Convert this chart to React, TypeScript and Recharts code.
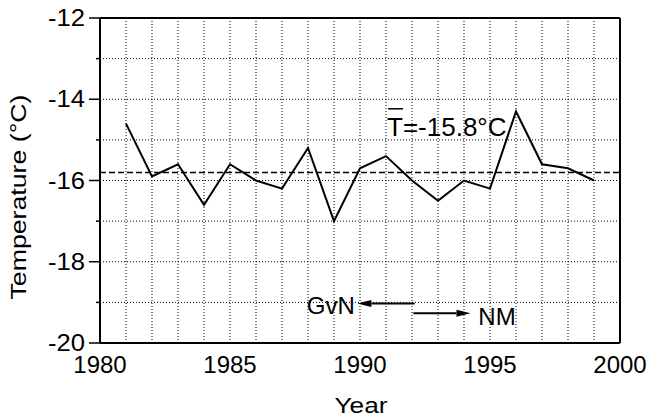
import React from "react";
import { LineChart, Line, XAxis, YAxis, ReferenceLine, ReferenceDot } from "recharts";

// annual mean temperature series
const years = [1981, 1982, 1983, 1984, 1985, 1986, 1987, 1988, 1989, 1990, 1991, 1992, 1993, 1994, 1995, 1996, 1997, 1998, 1999];
const temps = [-14.6, -15.9, -15.6, -16.6, -15.6, -16.0, -16.2, -15.2, -17.0, -15.7, -15.4, -16.0, -16.5, -16.0, -16.2, -14.3, -15.6, -15.7, -16.0];
const meanTemp = -15.8;

const xTicks = [1980, 1985, 1990, 1995, 2000];
const yTicks = [-20, -19, -18, -17, -16, -15, -14, -13, -12];
const gridYears = [1981, 1982, 1983, 1984, 1985, 1986, 1987, 1988, 1989, 1990, 1991, 1992, 1993, 1994, 1995, 1996, 1997, 1998, 1999];
const gridTemps = [-19, -18, -17, -16, -15, -14, -13];

// annotation anchors (data coordinates)
const gvnArrow = [{ x: 1992.1, y: -19.03 }, { x: 1989.9, y: -19.03 }];
const nmArrow = [{ x: 1992.05, y: -19.27 }, { x: 1994.25, y: -19.27 }];
const gvnLabel = { x: 1989.8, y: -19.29, text: "GvN" };
const nmLabel = { x: 1994.55, y: -19.55, text: "NM" };
const meanLabel = { x: 1991.04, y: -14.9, text: "T=-15.8°C" };

const data = years.map((year, i) => ({ year, temp: temps[i] }));

const FONT = "'Liberation Sans', Arial, sans-serif";

const YTick = (props: any) => {
    const { x, y, payload } = props;
    const major = payload.value % 2 === 0;
    return (
        <g>
            <line x1={x - (major ? 11 : 4)} x2={x} y1={y} y2={y} stroke="#000" strokeWidth={1.5} />
            {major && (
                <text
                    x={x - 15}
                    y={y + 8}
                    textAnchor="end"
                    fontSize={23}
                    fontFamily={FONT}
                    fill="#000"
                    textLength={37}
                    lengthAdjust="spacingAndGlyphs"
                >
                    {payload.value}
                </text>
            )}
        </g>
    );
};

const XTick = (props: any) => {
    const { x, y, payload } = props;
    return (
        <text x={x} y={y + 30} textAnchor="middle" fontSize={24} fontFamily={FONT} fill="#000">
            {payload.value}
        </text>
    );
};

const Arrow = (p: any) => {
    const { x1, y1, x2, y2 } = p;
    const dir = Math.sign(x2 - x1);
    const head = 14;
    return (
        <g>
            <line x1={x1} y1={y1} x2={x2 - dir * head} y2={y2} stroke="#000" strokeWidth={2} />
            <polygon points={`${x2},${y2} ${x2 - dir * head},${y2 - 3.5} ${x2 - dir * head},${y2 + 3.5}`} fill="#000" />
        </g>
    );
};

export default function App() {
    return (
        <div style={{ position: "absolute", left: 0, top: 0, width: 649, height: 417, background: "#fff" }}>
            <LineChart width={649} height={417} data={data} margin={{ top: 18, right: 29, bottom: 0, left: 0 }}>
                <XAxis
                    dataKey="year"
                    type="number"
                    domain={[1980, 2000]}
                    ticks={xTicks}
                    height={74}
                    tickSize={0}
                    tickMargin={0}
                    tickLine={false}
                    tick={<XTick />}
                    axisLine={{ stroke: "#000", strokeWidth: 2 }}
                    label={() => (
                        <text
                            x={361}
                            y={413}
                            textAnchor="middle"
                            fontSize={22}
                            fontFamily={FONT}
                            fill="#000"
                            textLength={53}
                            lengthAdjust="spacingAndGlyphs"
                        >
                            Year
                        </text>
                    )}
                />
                <YAxis
                    type="number"
                    domain={[-20, -12]}
                    ticks={yTicks}
                    width={100}
                    tickSize={0}
                    tickMargin={0}
                    tickLine={false}
                    tick={<YTick />}
                    interval={0}
                    axisLine={{ stroke: "#000", strokeWidth: 2 }}
                    label={() => (
                        <text
                            transform="translate(26,197) rotate(-90)"
                            textAnchor="middle"
                            fontSize={22}
                            fontFamily={FONT}
                            fill="#000"
                            textLength={205}
                            lengthAdjust="spacingAndGlyphs"
                        >
                            Temperature (°C)
                        </text>
                    )}
                />
                {gridYears.map((yr) => (
                    <ReferenceLine key={"gx" + yr} x={yr} stroke="#000" strokeWidth={1} strokeDasharray="1 2" />
                ))}
                {gridTemps.map((t) => (
                    <ReferenceLine key={"gy" + t} y={t} stroke="#000" strokeWidth={1} strokeDasharray="1 2" />
                ))}
                <ReferenceLine y={-12} stroke="#000" strokeWidth={2} />
                <ReferenceLine x={2000} stroke="#000" strokeWidth={2} />
                <ReferenceLine y={meanTemp} stroke="#000" strokeWidth={1.5} strokeDasharray="6 3" />
                <ReferenceLine segment={gvnArrow} shape={Arrow} />
                <ReferenceLine segment={nmArrow} shape={Arrow} />
                <ReferenceDot
                    x={gvnLabel.x}
                    y={gvnLabel.y}
                    r={0}
                    shape={(p: any) => (
                        <text x={p.cx} y={p.cy} textAnchor="end" fontSize={24} fontFamily={FONT} fill="#000">
                            {gvnLabel.text}
                        </text>
                    )}
                />
                <ReferenceDot
                    x={nmLabel.x}
                    y={nmLabel.y}
                    r={0}
                    shape={(p: any) => (
                        <text x={p.cx} y={p.cy} textAnchor="start" fontSize={24} fontFamily={FONT} fill="#000">
                            {nmLabel.text}
                        </text>
                    )}
                />
                <ReferenceDot
                    x={meanLabel.x}
                    y={meanLabel.y}
                    r={0}
                    shape={(p: any) => (
                        <g>
                            <line x1={p.cx + 1} x2={p.cx + 16} y1={p.cy - 27} y2={p.cy - 27} stroke="#000" strokeWidth={1.5} />
                            <text x={p.cx} y={p.cy} textAnchor="start" fontSize={26} fontFamily={FONT} fill="#000">
                                {meanLabel.text}
                            </text>
                        </g>
                    )}
                />
                <Line dataKey="temp" stroke="#000" strokeWidth={2} dot={false} isAnimationActive={false} />
            </LineChart>
        </div>
    );
}
